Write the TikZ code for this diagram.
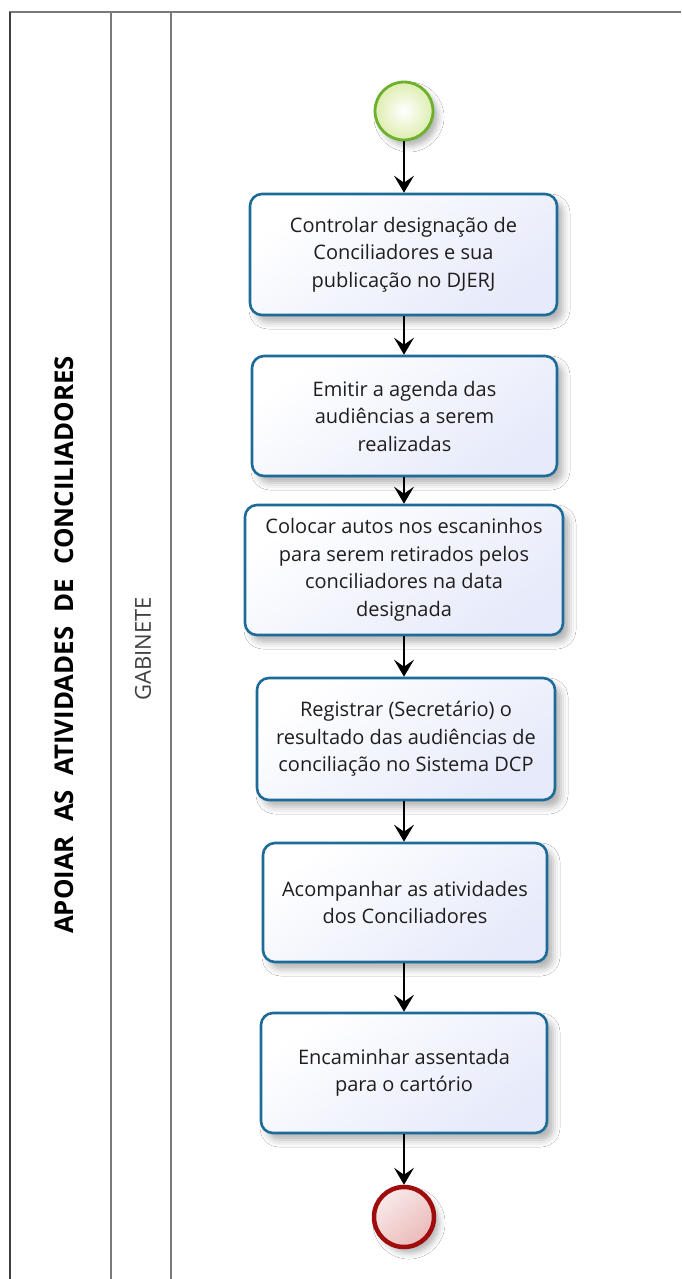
\documentclass[tikz,border=0pt]{standalone}
\usepackage{fontspec}
\setmainfont{Open Sans}
\usetikzlibrary{arrows.meta,shadows.blur}
\definecolor{lanegray}{HTML}{7A7A7A}
\definecolor{boxborder}{HTML}{1D6B99}
\definecolor{boxbot}{HTML}{E6EAFA}
\definecolor{startborder}{HTML}{6CB02C}
\definecolor{startfill}{HTML}{DDEEB0}
\definecolor{endborder}{HTML}{A00C0C}
\definecolor{endfill}{HTML}{EBB9B9}
\definecolor{txt}{HTML}{1E1E1E}
\tikzset{
  task/.style={draw=boxborder, line width=2.6pt, rounded corners=12pt,
    top color=white, bottom color=boxbot, shading angle=35,
    blur shadow={shadow xshift=6pt, shadow yshift=-7pt, shadow blur radius=7pt, shadow opacity=30},
    align=center, text=txt, font=\fontsize{20}{27.5}\selectfont, inner sep=0pt},
  startev/.style={circle, draw=startborder, line width=2.8pt, minimum size=58pt,
    inner color=white, outer color=startfill,
    blur shadow={shadow xshift=5pt, shadow yshift=-6pt, shadow blur radius=6pt, shadow opacity=30}},
  endev/.style={circle, draw=endborder, line width=4.5pt, minimum size=60pt,
    top color=white!70!endfill, bottom color=endfill, shading angle=40,
    blur shadow={shadow xshift=5pt, shadow yshift=-6pt, shadow blur radius=6pt, shadow opacity=30}},
  flow/.style={line width=1.5pt, -{Stealth[length=17pt, width=20pt, inset=7pt]}},
  lane/.style={lanegray, line width=1.8pt},
}
\begin{document}
\begin{tikzpicture}[x=1pt, y=-1pt]
\useasboundingbox (0,0) rectangle (681,1279);
\fill[white] (0,0) rectangle (681,1279);
% pool and lanes
\coordinate (tl) at (10,12);
\coordinate (tr) at (681,12);
\coordinate (bl) at (10,1279);
\coordinate (l2t) at (111,12);
\coordinate (l2b) at (111,1279);
\coordinate (l3t) at (171,12);
\coordinate (l3b) at (171,1279);
\draw[lane] (bl) -- (tl) -- (tr);
\draw[lane, black!75] (bl) -- (tl);
\draw[lane] (l2t) -- (l2b);
\draw[lane] (l3t) -- (l3b);
\node[rotate=90, font=\bfseries\fontsize{25.8}{30}\selectfont, text=black] (title) at (64,645)
  {APOIAR\hspace{0.55em}AS\hspace{0.55em}ATIVIDADES\hspace{0.55em}DE\hspace{0.55em}CONCILIADORES};
\node[rotate=90, font=\fontsize{22}{26}\selectfont, text=black!75] (lanename) at (143,649) {GABINETE};
% flow
\node[startev] (s) at (404,111) {};
\node[task, minimum width=307pt, minimum height=121pt] (b1) at (403.5,254.5)
  {Controlar designação de\\Conciliadores e sua\\publicação no DJERJ};
\node[task, minimum width=305pt, minimum height=120pt] (b2) at (404.5,416)
  {Emitir a agenda das\\audiências a serem\\realizadas};
\node[task, minimum width=318pt, minimum height=130pt] (b3) at (404,570)
  {Colocar autos nos escaninhos\\para serem retirados pelos\\conciliadores na data\\designada};
\node[task, minimum width=298pt, minimum height=122pt] (b4) at (406,739)
  {Registrar (Secretário) o\\resultado das audiências de\\conciliação no Sistema DCP};
\node[task, minimum width=284pt, minimum height=119pt] (b5) at (405,902.5)
  {Acompanhar as atividades\\dos Conciliadores};
\node[task, minimum width=286pt, minimum height=120pt] (b6) at (404,1073)
  {Encaminhar assentada\\para o cartório};
\node[endev] (e) at (404,1217) {};
\draw[flow] (s) -- (s |- b1.north);
\draw[flow] (b1.south -| s) -- (s |- b2.north);
\draw[flow] (b2.south -| s) -- (s |- b3.north);
\draw[flow] (b3.south -| s) -- (s |- b4.north);
\draw[flow] (b4.south -| s) -- (s |- b5.north);
\draw[flow] (b5.south -| s) -- (s |- b6.north);
\draw[flow] (b6.south -| s) -- (e);
\end{tikzpicture}
\end{document}
